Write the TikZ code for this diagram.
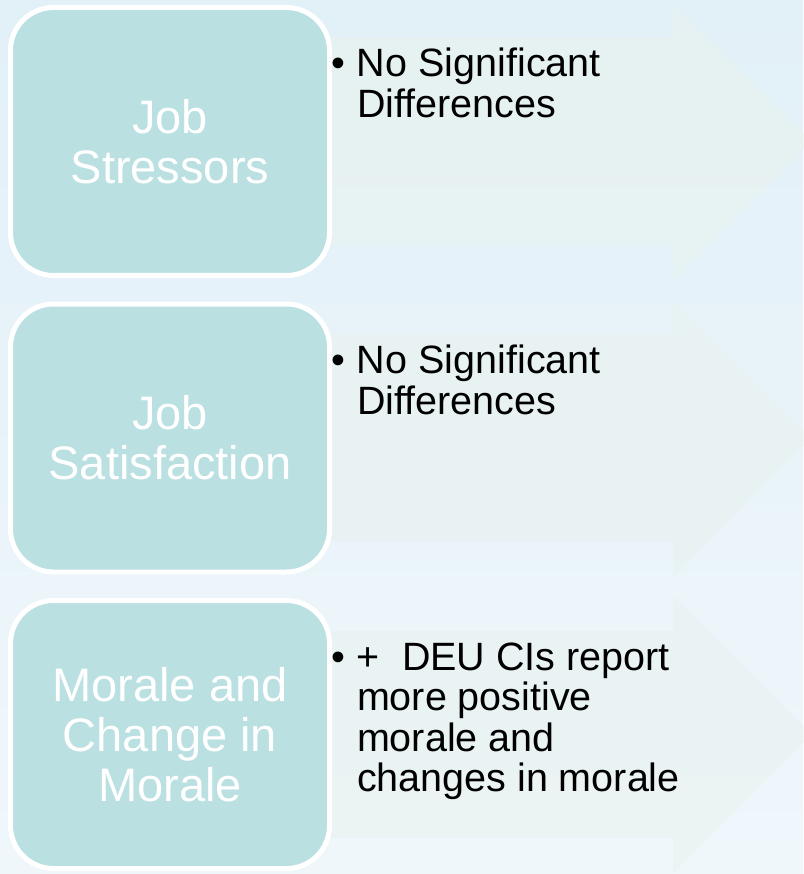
\documentclass[tikz,border=0pt]{standalone}
\usepackage{fontspec}
\setmainfont{Liberation Sans}
\usepackage{xcolor}
\usepackage{tikz}

\definecolor{bgtop}{RGB}{226,240,248}
\definecolor{bgbot}{RGB}{239,247,251}
\definecolor{arrowfill}{RGB}{233,242,237}
\definecolor{boxfill}{RGB}{186,224,226}

\tikzset{
  topic/.style={draw=white, line width=5pt, fill=boxfill, rounded corners=43pt,
    minimum width=319pt, minimum height=268pt, inner sep=0pt, align=center,
    text=white, font=\fontsize{47}{50}\selectfont},
  result/.style={anchor=base west, inner sep=0pt, font=\fontsize{39.5}{40}\selectfont},
}
% bullet in its own column, wrapped lines hang under the text
\newcommand{\finding}[1]{\begin{tabular}[t]{@{}l@{\hspace{12pt}}l@{}}\textbullet & #1\end{tabular}}

\begin{document}
\begin{tikzpicture}[x=1pt, y=-1pt]
  \def\gap{296.5}
  \useasboundingbox (0,0) rectangle (803,874);
  % background
  \fill[top color=bgtop, bottom color=bgbot] (0,0) rectangle (803,874);
  % faint arrows behind each row
  \foreach \i in {0,1,2}{
    \pgfmathsetmacro\c{141.5+\gap*\i}
    \fill[arrowfill, opacity=0.5]
      (170,\c-103.5) -- (673,\c-103.5) -- (673,\c-138.5) -- (811.5,\c)
      -- (673,\c+138.5) -- (673,\c+103.5) -- (170,\c+103.5) -- cycle;
  }
  % topic boxes
  \node[topic] (stress) at (170,141.5) {Job\\Stressors};
  \node[topic] (satisf) at (170,438) {Job\\Satisfaction};
  \node[topic] (morale) at (170,734.5) {Morale and\\Change in\\Morale};
  % findings
  \node[result] (stressres) at (331,77) {\finding{No Significant\\ & Differences}};
  \node[result] (satisfres) at (331,373.5) {\finding{No Significant\\ & Differences}};
  \node[result] (moraleres) at (331,670)
    {\finding{+\ \ DEU CIs report\\ & more positive\\ & morale and\\ & changes in morale}};
\end{tikzpicture}
\end{document}
